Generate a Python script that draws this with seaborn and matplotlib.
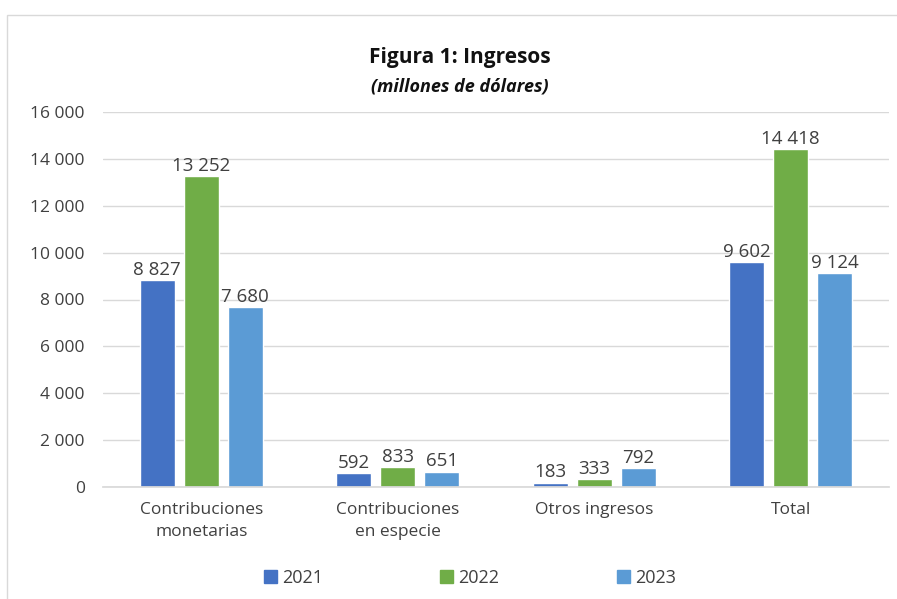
import matplotlib
matplotlib.use("Agg")
import matplotlib.pyplot as plt
import matplotlib.patches as mpatches
import seaborn as sns
import pandas as pd

categories = ["Contribuciones\nmonetarias", "Contribuciones\nen especie", "Otros ingresos", "Total"]
years = ["2021", "2022", "2023"]
values_2021 = [8827, 592, 183, 9602]
values_2022 = [13252, 833, 333, 14418]
values_2023 = [7680, 651, 792, 9124]
colors = ["#4472C4", "#70AD47", "#5B9BD5"]
yticks = [0, 2000, 4000, 6000, 8000, 10000, 12000, 14000, 16000]

def fmt(v):
    return f"{int(v):,}".replace(",", " ")

rows = []
for year, vals in zip(years, [values_2021, values_2022, values_2023]):
    for cat, v in zip(categories, vals):
        rows.append({"Categoría": cat, "Año": year, "Valor": v})
df = pd.DataFrame(rows)

sns.set_theme(style="white")
plt.rcParams["font.family"] = ["Open Sans", "DejaVu Sans"]
text_color = "#404040"

fig = plt.figure(figsize=(8.97, 5.99), dpi=100)
# light frame around the chart area
fig.patches.append(mpatches.Rectangle((7 / 897, -0.01), 1.0, 1 - 15 / 599 + 0.01,
                                      transform=fig.transFigure, fill=False,
                                      edgecolor="#d9d9d9", linewidth=1.0))
ax = fig.add_axes([103 / 897, 1 - 487 / 599, 786 / 897, 375 / 599])

sns.barplot(data=df, x="Categoría", y="Valor", hue="Año", palette=colors,
            width=0.67, gap=0.2, ax=ax, legend=False, saturation=1)

ax.set_ylim(0, 16000)
ax.set_xlim(-0.5, 3.5)
ax.set_yticks(yticks)
ax.set_yticklabels([fmt(t) for t in yticks], fontsize=12.5, color=text_color)
ax.tick_params(axis="x", labelsize=12.5, colors=text_color, length=0, pad=11)
ax.tick_params(axis="y", length=0, pad=13)
for lbl in ax.get_xticklabels():
    lbl.set_linespacing(1.5)
ax.set_xlabel("")
ax.set_ylabel("")
ax.yaxis.grid(True, color="#d9d9d9", linewidth=1)
ax.set_axisbelow(True)
for s in ["top", "right", "left"]:
    ax.spines[s].set_visible(False)
ax.spines["bottom"].set_color("#d9d9d9")

for container in ax.containers:
    ax.bar_label(container, labels=[fmt(v) for v in container.datavalues],
                 fontsize=13.5, color=text_color, padding=1)

cx = 460 / 897
fig.text(cx, 1 - 58 / 599, "Figura 1: Ingresos", ha="center", va="center",
         fontsize=15, fontweight="bold", color="#111111")
fig.text(cx, 1 - 86 / 599, "(millones de dólares)", ha="center", va="center",
         fontsize=13, fontweight="bold", fontstyle="italic", color="#111111")

handles = [mpatches.Patch(color=c, label=y) for c, y in zip(colors, years)]
fig.legend(handles=handles, loc="center", bbox_to_anchor=(470 / 897, 1 - 578 / 599), ncol=3,
           frameon=False, fontsize=13, handlelength=0.7, handleheight=0.7,
           handletextpad=0.3, columnspacing=6.5, labelcolor=text_color)

fig.savefig("out.png", dpi=100, facecolor="white")
